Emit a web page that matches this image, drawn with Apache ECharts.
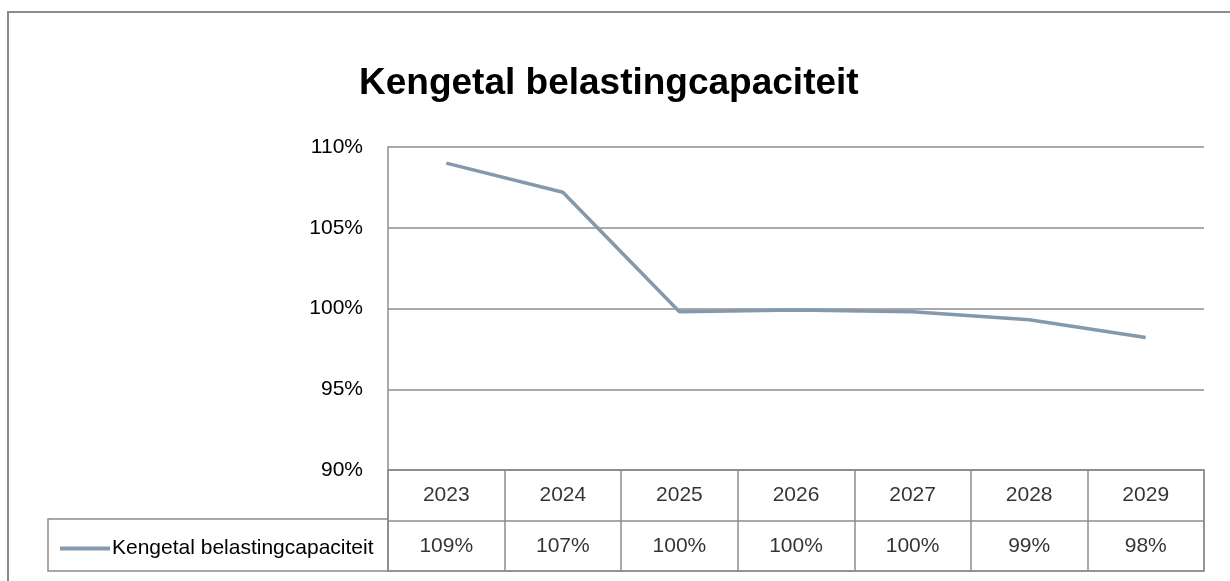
<!DOCTYPE html>
<html>
<head>
    <meta charset="utf-8">
    <title>Kengetal belastingcapaciteit</title>
    <script type="text/javascript" src="https://cdn.jsdelivr.net/npm/echarts@6/dist/echarts.min.js"></script>
    <style>
        html, body { margin: 0; padding: 0; background: #fff; }
    </style>
</head>
<body>
<div id="chart" style="width:1230px;height:581px;"></div>

<script type="text/javascript">
    // gegevens
    var jaren = ['2023', '2024', '2025', '2026', '2027', '2028', '2029'];
    var kengetal = [109.0, 107.2, 99.8, 99.9, 99.8, 99.3, 98.2];
    var tabelLabels = ['109%', '107%', '100%', '100%', '100%', '99%', '98%'];
    var yTicks = [90, 95, 100, 105, 110];
    var reeksNaam = 'Kengetal belastingcapaciteit';

    var font = "'Liberation Sans', sans-serif";
    var lijnKleur = '#8499ab';
    var rasterKleur = '#8c8c8c';

    var myChart = echarts.init(document.getElementById('chart'));

    // rijen van de tabel onder de grafiek
    var jaarRij = [], waardeRij = [];
    for (var i = 0; i < jaren.length; i++) {
        jaarRij.push({ value: [jaren[i], 'jaar'], name: jaren[i] });
        waardeRij.push({ value: [jaren[i], 'waarde'], name: tabelLabels[i] });
    }

    var option = {
        backgroundColor: '#fff',
        animation: false,
        title: {
            text: 'Kengetal belastingcapaciteit',
            left: 354,
            top: 60,
            textStyle: { fontFamily: font, fontSize: 37, fontWeight: 'bold', color: '#000' }
        },
        legend: {
            data: [reeksNaam],
            left: 55,
            top: 533,
            icon: 'rect',
            itemWidth: 50,
            itemHeight: 4,
            itemGap: 0,
            itemStyle: { color: lijnKleur },
            textStyle: { fontFamily: font, fontSize: 21, color: '#000', padding: [0, 0, 0, -3] }
        },
        grid: [
            { left: 388, right: 26, top: 147, height: 323 },
            { left: 388, right: 26, top: 470, height: 101, show: true, borderColor: rasterKleur, borderWidth: 1.5 }
        ],
        xAxis: [
            {
                type: 'category', gridIndex: 0, data: jaren, boundaryGap: true,
                axisLine: { show: false }, axisTick: { show: false }, axisLabel: { show: false }
            },
            {
                type: 'category', gridIndex: 1, data: jaren, boundaryGap: true,
                axisLine: { show: false }, axisTick: { show: false }, axisLabel: { show: false },
                splitLine: { show: true, interval: 0, lineStyle: { color: rasterKleur, width: 1.5 } }
            }
        ],
        yAxis: [
            {
                type: 'value', gridIndex: 0, min: 90, max: 110, interval: 5,
                axisLine: { show: true, lineStyle: { color: rasterKleur, width: 1.5 } },
                axisTick: { show: false },
                axisLabel: {
                    margin: 25, fontFamily: font, fontSize: 21, color: '#000',
                    formatter: function (v) { return yTicks.indexOf(v) >= 0 ? v + '%' : ''; }
                },
                splitLine: { show: true, lineStyle: { color: rasterKleur, width: 1.5 } }
            },
            {
                type: 'category', gridIndex: 1, data: ['waarde', 'jaar'], boundaryGap: true,
                axisLine: { show: false }, axisTick: { show: false }, axisLabel: { show: false },
                splitLine: { show: true, interval: 0, lineStyle: { color: rasterKleur, width: 1.5 } }
            }
        ],
        graphic: [
            {
                type: 'rect', silent: true,
                shape: { x: 8, y: 12, width: 1240, height: 620 },
                style: { fill: 'none', stroke: '#8c8c8c', lineWidth: 2 }
            },
            {
                type: 'rect', silent: true,
                shape: { x: 48, y: 519, width: 340, height: 52 },
                style: { fill: 'none', stroke: rasterKleur, lineWidth: 1.5 }
            }
        ],
        series: [
            {
                name: reeksNaam,
                type: 'line',
                xAxisIndex: 0, yAxisIndex: 0,
                data: kengetal,
                symbol: 'none',
                lineStyle: { color: lijnKleur, width: 3.5 },
                itemStyle: { color: lijnKleur }
            },
            {
                name: 'jaren',
                type: 'scatter',
                xAxisIndex: 1, yAxisIndex: 1,
                data: jaarRij,
                symbolSize: 1,
                itemStyle: { color: 'rgba(0,0,0,0)' },
                label: {
                    show: true, position: 'inside', formatter: '{b}',
                    fontFamily: font, fontSize: 21, color: '#000'
                }
            },
            {
                name: 'waarden',
                type: 'scatter',
                xAxisIndex: 1, yAxisIndex: 1,
                data: waardeRij,
                symbolSize: 1,
                itemStyle: { color: 'rgba(0,0,0,0)' },
                label: {
                    show: true, position: 'inside', formatter: '{b}',
                    fontFamily: font, fontSize: 21, color: '#000'
                }
            }
        ]
    };
    myChart.setOption(option);
</script>
</body>
</html>
